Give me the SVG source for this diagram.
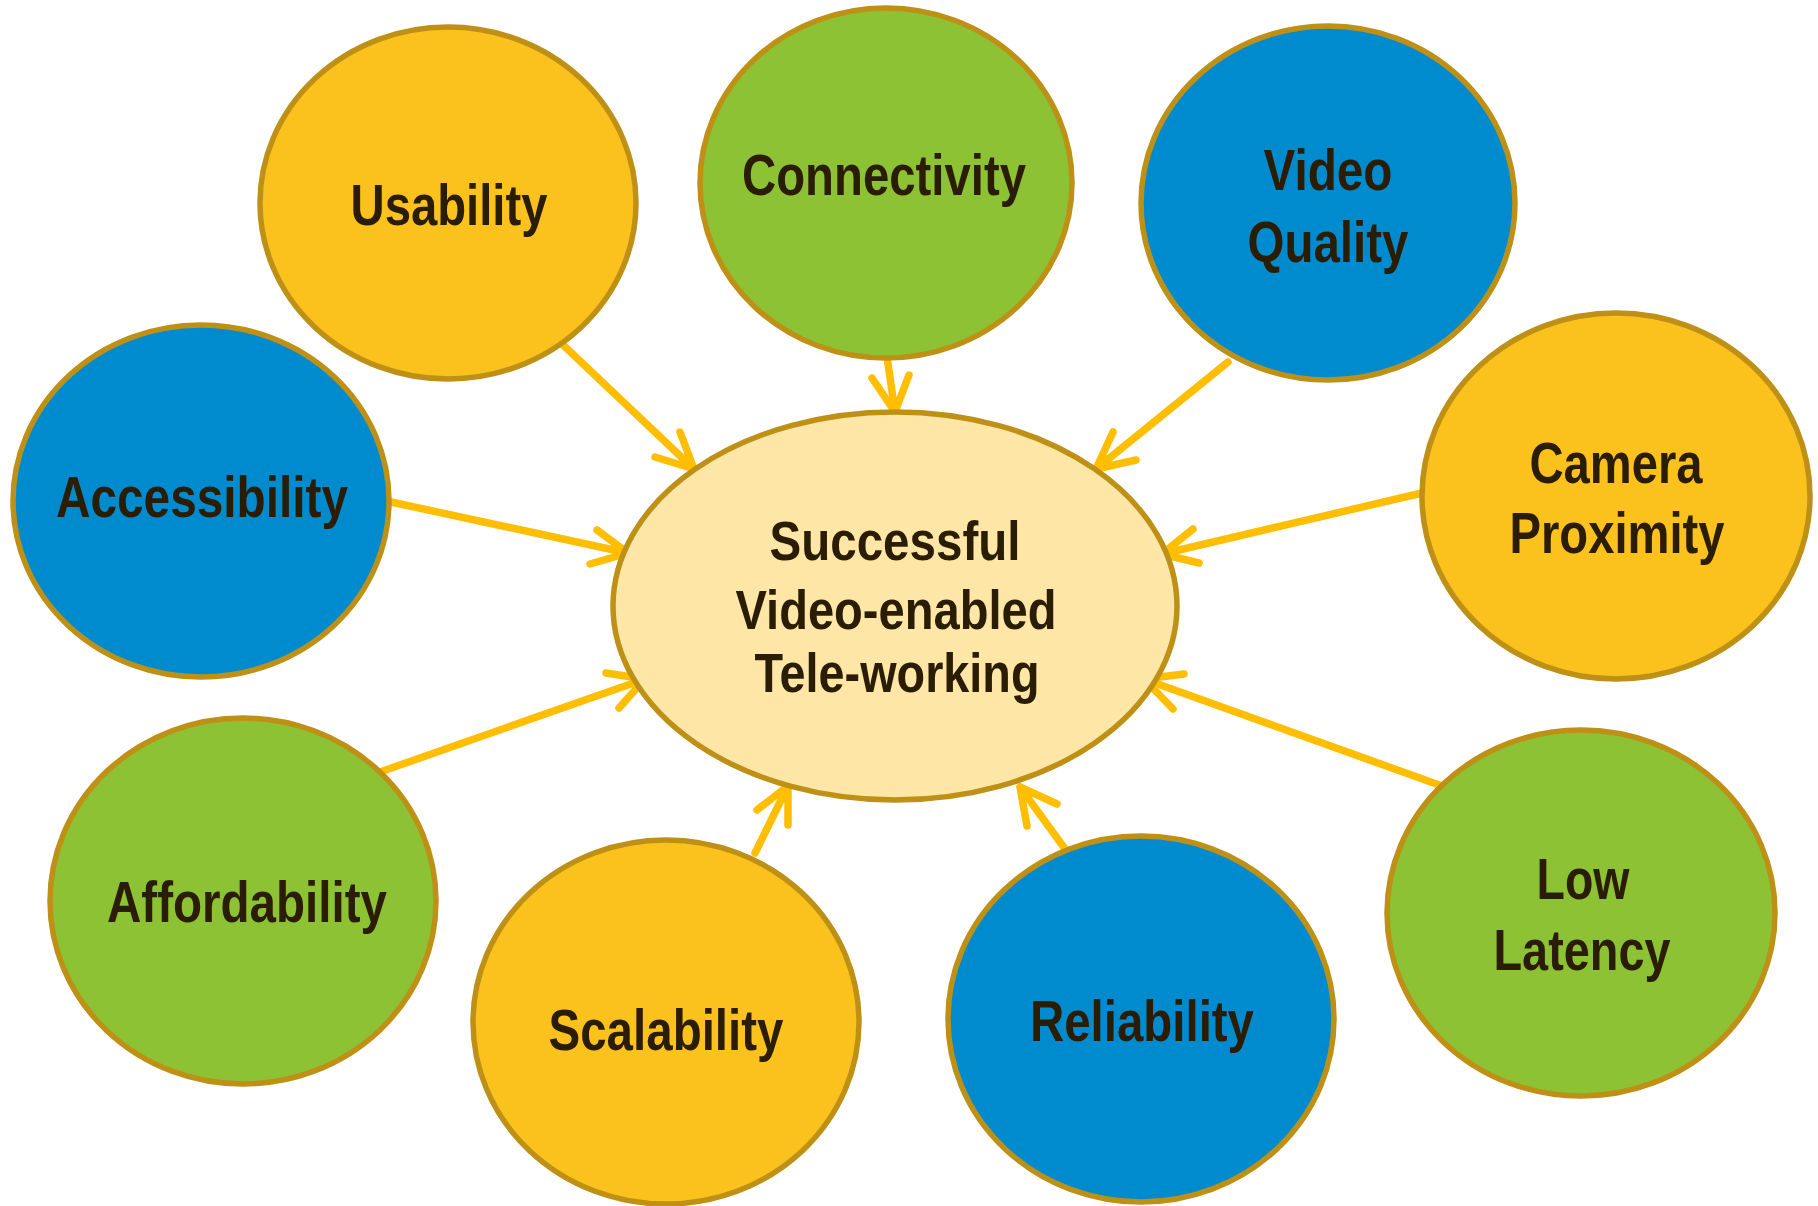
<svg xmlns="http://www.w3.org/2000/svg" width="1818" height="1206" viewBox="0 0 1818 1206">
<style>
.n{stroke:#BF9016;stroke-width:5.5}
.y{fill:#FBC21D}.g{fill:#8CC234}.b{fill:#008BCE}.c{fill:#FDE6A6}
.t{font-family:"Liberation Sans Narrow","Liberation Sans",Arial,sans-serif;font-weight:bold;font-size:57px;fill:#2B1D04;text-anchor:middle}
.ct{font-size:56px}
.a{stroke:#FFBF00;stroke-width:7.5;fill:none;stroke-linecap:round;stroke-linejoin:round}
</style>
<rect width="1818" height="1206" fill="#fff"/>
<g id="connectors">
<path class="a" d="M561 343 L694 469 M680 432 L694 469 L655 457"/>
<path class="a" d="M887 357 L895 412 M872 378 L895 412 L909 375"/>
<path class="a" d="M1228 362 L1096 469 M1113 432 L1096 469 L1136 460"/>
<path class="a" d="M391 502 L628 553 M597 530 L628 553 L590 564"/>
<path class="a" d="M1422 493 L1162 554 M1193 529 L1162 554 L1199 563"/>
<path class="a" d="M380 772 L645 679 M606 673 L645 679 L619 708"/>
<path class="a" d="M755 853 L788 786 M757 810 L788 786 L788 825"/>
<path class="a" d="M1068 853 L1020 787 M1057 804 L1020 787 L1027 826"/>
<path class="a" d="M1442 786 L1144 679 M1184 674 L1144 679 L1173 709"/>
</g>
<g id="center">
<ellipse class="n c" cx="895" cy="606" rx="282" ry="194"/>
<text class="t ct" x="895" y="560" textLength="251" lengthAdjust="spacingAndGlyphs">Successful</text>
<text class="t ct" x="896" y="629" textLength="321" lengthAdjust="spacingAndGlyphs">Video-enabled</text>
<text class="t ct" x="897" y="692" textLength="285" lengthAdjust="spacingAndGlyphs">Tele-working</text>
</g>
<g id="usability">
<ellipse class="n y" cx="448" cy="203" rx="188" ry="176"/>
<text class="t" x="449" y="225" textLength="197" lengthAdjust="spacingAndGlyphs">Usability</text>
</g>
<g id="connectivity">
<ellipse class="n g" cx="886" cy="183" rx="186" ry="175"/>
<text class="t" x="884" y="195" textLength="284" lengthAdjust="spacingAndGlyphs">Connectivity</text>
</g>
<g id="video-quality">
<ellipse class="n b" cx="1328" cy="203" rx="187" ry="177"/>
<text class="t" x="1328" y="190" textLength="129" lengthAdjust="spacingAndGlyphs">Video</text>
<text class="t" x="1328" y="262" textLength="161" lengthAdjust="spacingAndGlyphs">Quality</text>
</g>
<g id="accessibility">
<ellipse class="n b" cx="201" cy="501" rx="188" ry="176"/>
<text class="t" x="202" y="517" textLength="292" lengthAdjust="spacingAndGlyphs">Accessibility</text>
</g>
<g id="camera-proximity">
<ellipse class="n y" cx="1616" cy="496" rx="194" ry="183"/>
<text class="t" x="1616" y="483" textLength="173" lengthAdjust="spacingAndGlyphs">Camera</text>
<text class="t" x="1617" y="553" textLength="215" lengthAdjust="spacingAndGlyphs">Proximity</text>
</g>
<g id="affordability">
<ellipse class="n g" cx="243" cy="901" rx="193" ry="183"/>
<text class="t" x="247" y="922" textLength="280" lengthAdjust="spacingAndGlyphs">Affordability</text>
</g>
<g id="scalability">
<ellipse class="n y" cx="666" cy="1022" rx="193" ry="182"/>
<text class="t" x="666" y="1050" textLength="235" lengthAdjust="spacingAndGlyphs">Scalability</text>
</g>
<g id="reliability">
<ellipse class="n b" cx="1141" cy="1019" rx="193" ry="183"/>
<text class="t" x="1142" y="1041" textLength="224" lengthAdjust="spacingAndGlyphs">Reliability</text>
</g>
<g id="low-latency">
<ellipse class="n g" cx="1581" cy="913" rx="194" ry="183"/>
<text class="t" x="1583" y="899" textLength="93" lengthAdjust="spacingAndGlyphs">Low</text>
<text class="t" x="1582" y="970" textLength="177" lengthAdjust="spacingAndGlyphs">Latency</text>
</g>
</svg>
